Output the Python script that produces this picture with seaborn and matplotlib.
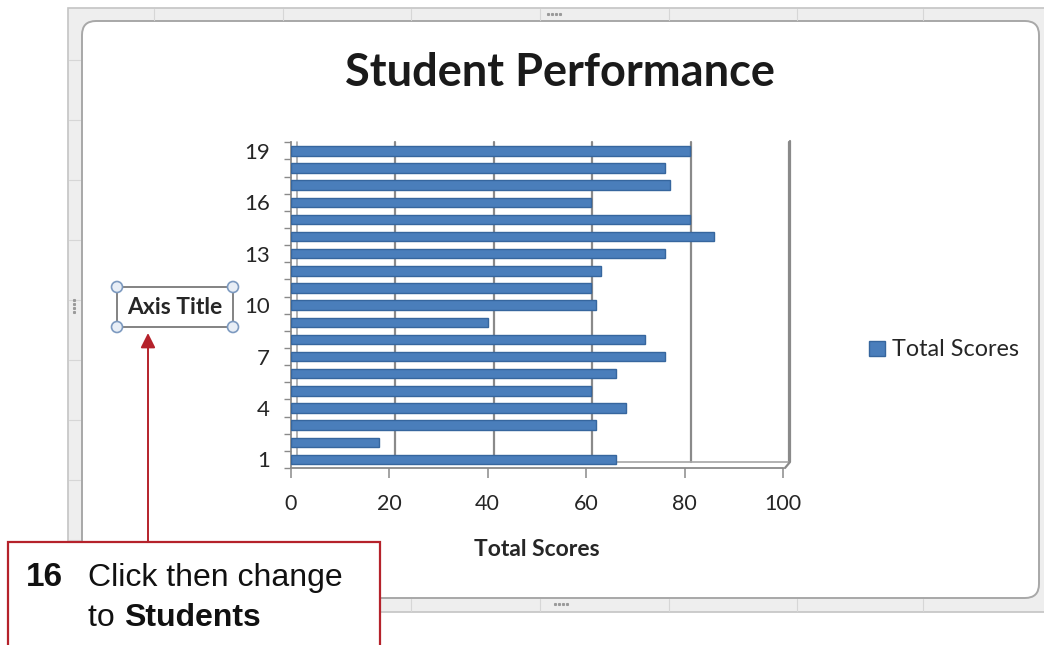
import matplotlib
matplotlib.use("Agg")
import matplotlib.pyplot as plt
import matplotlib.transforms as mtransforms
from matplotlib.patches import Rectangle, FancyBboxPatch, Circle, Patch, FancyArrowPatch
import numpy as np
import pandas as pd
import seaborn as sns

# ---- data -------------------------------------------------------------
students = [str(i) for i in range(1, 20)]
total_scores = [66, 18, 62, 68, 61, 66, 76, 72, 40, 62, 61, 63, 76, 86, 81, 61, 77, 76, 81]
x_ticks = [0, 20, 40, 60, 80, 100]
shown_students = ["1", "4", "7", "10", "13", "16", "19"]

title = "Student Performance"
x_title = "Total Scores"
series_name = "Total Scores"

# ---- figure -----------------------------------------------------------
W, H = 1044, 645
DPI = 100
sns.set_theme(style="white")
plt.rcParams["font.family"] = ["Lato", "DejaVu Sans"]

fig = plt.figure(figsize=(W / DPI, H / DPI), dpi=DPI)
fig.patch.set_facecolor("white")


def rect(x0, y0, x1, y1):
    """pixel box (top-left origin) -> figure fraction rect"""
    return [x0 / W, 1 - y1 / H, (x1 - x0) / W, (y1 - y0) / H]


# background layer: worksheet frame and chart area
bg = fig.add_axes([0, 0, 1, 1], zorder=0)
bg.set_xlim(0, W)
bg.set_ylim(H, 0)
bg.axis("off")

bg.add_patch(Rectangle((68, 8), W - 68 + 5, 604, facecolor="#eeeeee",
                       edgecolor="#c4c4c4", lw=1.2))
for gx in [154, 283, 411, 540, 669, 797, 923]:
    bg.plot([gx, gx], [9, 20], color="#d6d6d6", lw=0.8)
    bg.plot([gx, gx], [599, 611], color="#d6d6d6", lw=0.8)
for gy in [60, 120, 180, 240, 300, 360, 420, 480, 540]:
    bg.plot([69, 80], [gy, gy], color="#d6d6d6", lw=0.8)
bg.add_patch(FancyBboxPatch((82, 21), 957, 577,
                            boxstyle="round,pad=0,rounding_size=14",
                            facecolor="white", edgecolor="#a8a8a8", lw=1.4))
for (gx, gy) in [(548, 14), (555, 604)]:
    for k in range(4):
        bg.plot(gx + k * 4, gy, marker="s", ms=1.2, color="#9a9a9a")
for k in range(4):
    bg.plot(74, 300 + k * 4, marker="s", ms=1.2, color="#9a9a9a")

# ---- main chart ---------------------------------------------------------
ax = fig.add_axes(rect(290.5, 142, 783.2, 468), zorder=1)
ax.patch.set_alpha(0)

df = pd.DataFrame({"Student": students, "Total Scores": total_scores})
order = students[::-1]
bar_fill = "#4a7ebb"
bar_edge = "#36669e"
sns.barplot(data=df, x="Total Scores", y="Student", order=order, orient="h",
            color=bar_fill, saturation=1, width=0.55, edgecolor=bar_edge,
            linewidth=1.0, ax=ax, zorder=3)

ax.set_xlim(0, 100)
ax.set_ylim(len(order) - 1 + 0.47, -0.52)

# back-wall gridlines, set back by the chart depth
depth = mtransforms.ScaledTranslation(6 / DPI, 0, fig.dpi_scale_trans)
grid_tr = ax.get_xaxis_transform() + depth
for v in x_ticks[1:]:
    ax.plot([v, v], [0.018, 1.0], transform=grid_tr, color="#8a8a8a",
            lw=1.6, zorder=1, clip_on=False)
ax.plot([0, 0], [0.018, 1.0], transform=grid_tr, color="#a6a6a6",
        lw=1.2, zorder=1, clip_on=False)
ax.plot([0, 100], [0.018, 0.018], transform=grid_tr, color="#a6a6a6",
        lw=1.2, zorder=1, clip_on=False)

ax.set_xticks(x_ticks)
ax.set_xticklabels([str(v) for v in x_ticks])
ax.set_yticks(range(len(order)))
ax.set_yticklabels([s if s in shown_students else "" for s in order])
ax.set_yticks(np.arange(-0.5, len(order), 1.0), minor=True)

ax.tick_params(axis="x", which="major", direction="out", length=7, width=1.1,
               color="#8a8a8a", pad=12, labelsize=15.5, labelcolor="#262626")
ax.tick_params(axis="y", which="major", length=0, pad=15, labelsize=16,
               labelcolor="#262626")
ax.tick_params(axis="y", which="minor", direction="out", length=5, width=1.0,
               color="#8a8a8a")
ax.tick_params(left=True, bottom=True)
ax.yaxis.set_tick_params(which="minor", left=True)

for side in ["top", "right"]:
    ax.spines[side].set_visible(False)
for side in ["left", "bottom"]:
    ax.spines[side].set_color("#8a8a8a")
    ax.spines[side].set_linewidth(1.3)

ax.set_xlabel(x_title, fontsize=16.5, fontweight="bold", color="#262626",
              labelpad=18)
ax.set_ylabel("")

# ---- overlay: title, legend, axis-title box, callout -------------------
ov = fig.add_axes([0, 0, 1, 1], zorder=2)
ov.set_xlim(0, W)
ov.set_ylim(H, 0)
ov.axis("off")
ov.patch.set_alpha(0)

ov.text(560, 73, title, fontsize=32.5, fontweight="bold", color="#1a1a1a",
        ha="center", va="center")

# back-wall right edge with the 3D corner
ov.plot([790, 790, 785], [141, 462, 468], color="#8a8a8a", lw=1.6)

# legend
ax.legend(handles=[Patch(facecolor=bar_fill, edgecolor=bar_edge, label=series_name)],
          loc="center left", bbox_to_anchor=(860 / W, 1 - 350 / H),
          bbox_transform=fig.transFigure, frameon=False, fontsize=16.8,
          handlelength=0.65, handleheight=0.65, handletextpad=0.3,
          borderaxespad=0, labelcolor="#262626")

# selected axis-title box
ov.add_patch(Rectangle((117, 287), 116, 40, facecolor="white",
                       edgecolor="#7a7a7a", lw=1.3))
for (cx, cy) in [(117, 287), (233, 287), (117, 327), (233, 327)]:
    ov.add_patch(Circle((cx, cy), 5.5, facecolor="#e8eef6",
                        edgecolor="#7d9ac0", lw=1.2))
ov.text(175, 308, "Axis Title", fontsize=16.5, fontweight="bold",
        color="#262626", ha="center", va="center")

# callout box with arrow
red = "#b5222b"
ov.add_patch(FancyArrowPatch((148, 543), (148, 333), arrowstyle="-|>",
                             mutation_scale=22, color=red, lw=1.4,
                             shrinkA=0, shrinkB=0))
ov.add_patch(Rectangle((8, 542), 372, 120, facecolor="white",
                       edgecolor=red, lw=1.6, clip_on=False))
callout_font = ["Liberation Sans", "DejaVu Sans"]
ov.text(26, 578, "16", fontsize=24, fontweight="bold", color="#111111",
        family=callout_font, ha="left", va="center")
ov.text(88, 578, "Click then change", fontsize=23, color="#111111",
        family=callout_font, ha="left", va="center")
t1 = ov.text(88, 618, "to ", fontsize=23, color="#111111",
             family=callout_font, ha="left", va="center")
ov.annotate("Students", xycoords=t1, xy=(1, 0.5), va="center", ha="left",
            fontsize=23, fontweight="bold", color="#111111",
            family=callout_font)

fig.savefig("out.png", dpi=DPI)
